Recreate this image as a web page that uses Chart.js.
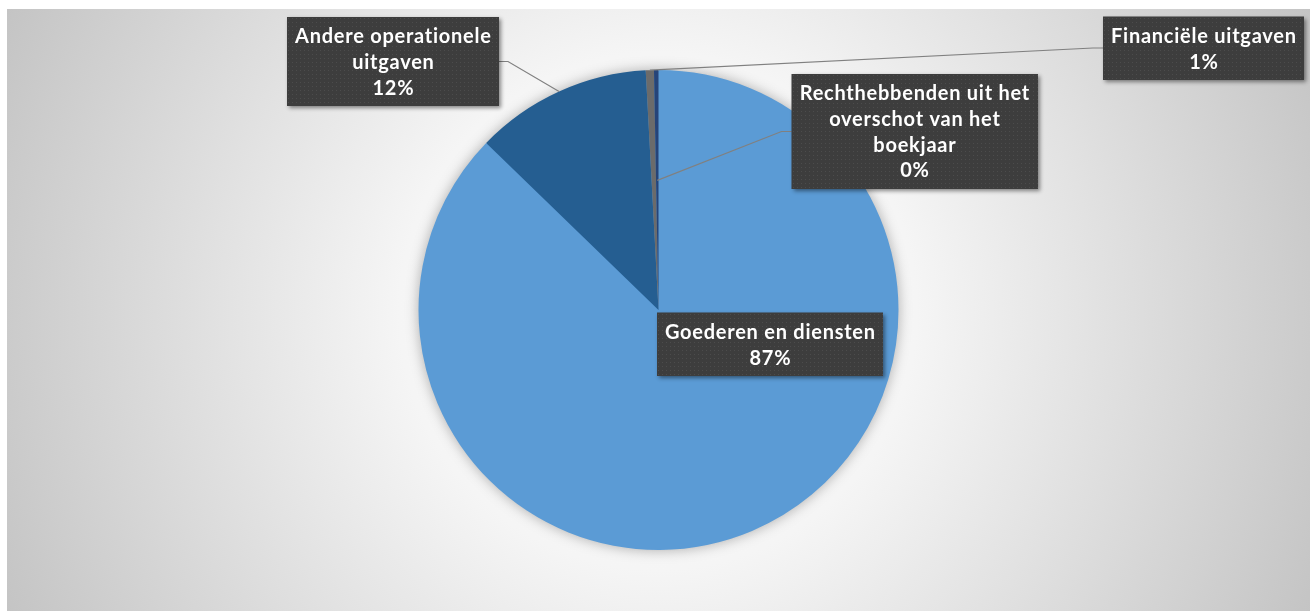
<!DOCTYPE html>
<html>
<head>
<meta charset="utf-8">
<script src="https://cdn.jsdelivr.net/npm/chart.js@4.4.1/dist/chart.umd.min.js"></script>
<style>
  html, body { margin: 0; padding: 0; background: #ffffff; }
  #wrap {
    position: absolute; left: 7px; top: 9px; width: 1303px; height: 602px;
    background: radial-gradient(circle farthest-corner at 651px 302px, #ffffff 0%, #f5f5f5 36%, #c4c4c4 100%);
  }
  canvas { display: block; }
</style>
</head>
<body>
<div id="wrap"><canvas id="c" width="1303" height="602"></canvas></div>
<script>
// ---- data ----
const categories = ["Goederen en diensten", "Andere operationele uitgaven", "Financiële uitgaven", "Rechthebbenden uit het overschot van het boekjaar"];
const values = [87.25, 11.9, 0.55, 0.3];
const labelLines = [
  ["Goederen en diensten"],
  ["Andere operationele", "uitgaven"],
  ["Financiële uitgaven"],
  ["Rechthebbenden uit het", "overschot van het", "boekjaar"]
];
const sliceColors = ["#5B9BD5", "#255E91", "#6B6B6B", "#264478"];

// ---- label layout (box centre offset from pie centre; leader line geometry) ----
const labelLayout = [
  { dx: 111.5, dy: 34, leader: null },
  { dx: -265.5, dy: -248.5, leader: { side: "right", r: 1.0 } },
  { dx: 545, dy: -262, leader: { side: "left", r: 1.0 } },
  { dx: 256, dy: -178.5, leader: { side: "left", r: 0.54 } }
];

const FONT = "bold 20px Lato, 'Open Sans', sans-serif";
const LETTER = 0.75;
const LINE_H = 25.7;

// dotted pattern for label boxes
const pat = document.createElement("canvas");
pat.width = 4; pat.height = 4;
const pctx = pat.getContext("2d");
pctx.fillStyle = "#3d3d3d"; pctx.fillRect(0, 0, 4, 4);
pctx.fillStyle = "#4c4c4c"; pctx.fillRect(1, 1, 1, 1);

const pieShadow = {
  id: "pieShadow",
  beforeDatasetsDraw(chart) {
    const arc = chart.getDatasetMeta(0).data[0];
    if (!arc) return;
    const ctx = chart.ctx;
    ctx.save();
    ctx.shadowColor = "rgba(0,0,0,0.35)";
    ctx.shadowBlur = 14;
    ctx.fillStyle = "#5B9BD5";
    ctx.beginPath();
    ctx.arc(arc.x, arc.y, arc.outerRadius - 1, 0, Math.PI * 2);
    ctx.fill();
    ctx.restore();
  }
};

function setFont(ctx) {
  ctx.font = FONT;
  try { ctx.letterSpacing = LETTER + "px"; } catch (e) {}
}

const dataLabels = {
  id: "dataLabels",
  afterDatasetsDraw(chart) {
    const ctx = chart.ctx;
    const meta = chart.getDatasetMeta(0);
    const total = values.reduce((a, b) => a + b, 0);
    const boxes = [];
    ctx.save();
    setFont(ctx);
    meta.data.forEach((arc, i) => {
      const lines = labelLines[i].concat([Math.round(values[i] / total * 100) + "%"]);
      let w = 0;
      lines.forEach(l => { w = Math.max(w, ctx.measureText(l).width - LETTER); });
      const bw = Math.round(w + 16);
      const bh = Math.round(lines.length * LINE_H + 12);
      const L = labelLayout[i];
      const cx = arc.x + L.dx, cy = arc.y + L.dy;
      boxes.push({ arc, lines, x: cx - bw / 2, y: cy - bh / 2, w: bw, h: bh, cx, cy, L });
    });
    ctx.restore();
    // leader lines
    ctx.save();
    ctx.strokeStyle = "#808080";
    ctx.lineWidth = 1.2;
    boxes.forEach(b => {
      if (!b.L.leader) return;
      const mid = (b.arc.startAngle + b.arc.endAngle) / 2;
      const r = b.arc.outerRadius * b.L.leader.r;
      const px = b.arc.x + Math.cos(mid) * r;
      const py = b.arc.y + Math.sin(mid) * r;
      const ex = b.L.leader.side === "right" ? b.x + b.w : b.x;
      const kx = b.L.leader.side === "right" ? ex + 9 : ex - 10;
      ctx.beginPath();
      ctx.moveTo(px, py);
      ctx.lineTo(kx, b.cy);
      ctx.lineTo(ex, b.cy);
      ctx.stroke();
    });
    ctx.restore();
    // boxes
    boxes.forEach(b => {
      ctx.save();
      ctx.shadowColor = "rgba(0,0,0,0.45)";
      ctx.shadowBlur = 4;
      ctx.shadowOffsetX = 2;
      ctx.shadowOffsetY = 2;
      ctx.fillStyle = "#3d3d3d";
      ctx.fillRect(b.x, b.y, b.w, b.h);
      ctx.restore();
      ctx.save();
      ctx.translate(Math.round(b.x), Math.round(b.y));
      ctx.fillStyle = ctx.createPattern(pat, "repeat");
      ctx.fillRect(0, 0, b.w, b.h);
      ctx.restore();
      ctx.save();
      setFont(ctx);
      ctx.fillStyle = "#ffffff";
      ctx.textAlign = "center";
      ctx.textBaseline = "middle";
      b.lines.forEach((l, k) => {
        ctx.fillText(l, b.cx + LETTER / 2, b.y + 6 + LINE_H / 2 + k * LINE_H + 1);
      });
      ctx.restore();
    });
  }
};

new Chart(document.getElementById("c"), {
  type: "pie",
  data: {
    labels: categories,
    datasets: [{
      data: values,
      backgroundColor: sliceColors,
      borderWidth: 0
    }]
  },
  options: {
    responsive: false,
    animation: false,
    layout: { padding: { top: 61, bottom: 61, left: 0, right: 0 } },
    plugins: { legend: { display: false }, tooltip: { enabled: false } }
  },
  plugins: [pieShadow, dataLabels]
});
</script>
</body>
</html>
